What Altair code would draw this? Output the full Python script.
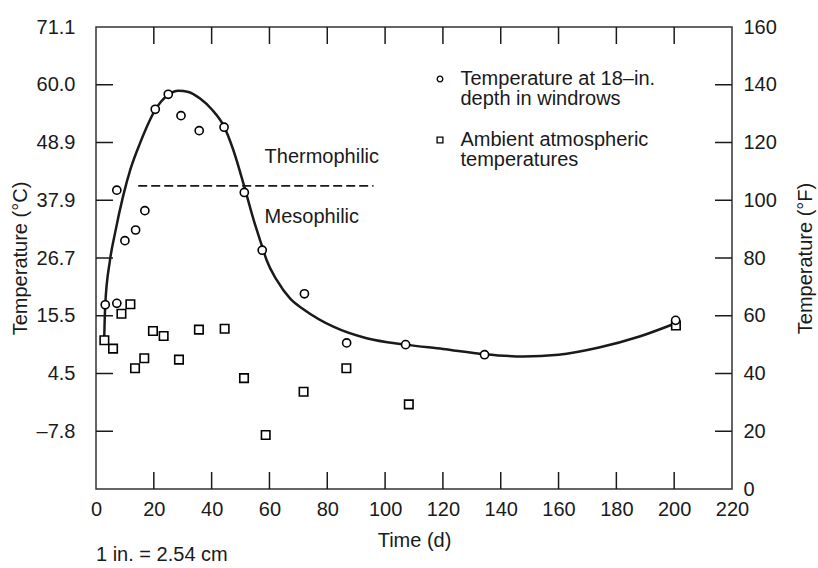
import altair as alt
import pandas as pd

FONT = "Liberation Sans"
FS = 20
INK = "#1a1a1a"

# Temperature at 18-in. depth in windrows (time in days, temperature in °F)
windrow_day = [3.2, 7.2, 7.2, 10.0, 13.7, 16.9, 20.5, 25.0, 29.4, 35.7, 44.3,
               51.3, 57.5, 72.1, 86.7, 107.1, 134.4, 200.5]
windrow_f = [63.8, 64.3, 103.5, 86.0, 89.7, 96.4, 131.5, 136.7, 129.3, 124.1,
             125.3, 102.7, 82.7, 67.6, 50.6, 50.0, 46.5, 58.4]

# Ambient atmospheric temperatures
ambient_day = [2.9, 5.9, 8.8, 11.9, 13.5, 16.7, 19.7, 23.4, 28.7, 35.6, 44.5,
               51.2, 58.7, 71.8, 86.6, 108.2, 200.6]
ambient_f = [51.5, 48.6, 60.7, 64.0, 41.8, 45.3, 54.7, 53.0, 44.8, 55.2, 55.5,
             38.4, 18.7, 33.7, 41.8, 29.3, 56.6]

# Fitted windrow temperature curve
curve_day = [2.8, 3.2, 4.8, 6.6, 9.4, 12.0, 15.2, 20.5, 25.0, 28.5, 32.0, 36.0,
             40.0, 44.3, 47.5, 51.3, 54.5, 57.5, 59.0, 62.5, 67.1, 72.1, 82.1,
             93.6, 107.1, 120.0, 134.4, 147.8, 160.0, 174.0, 188.0, 200.5]
curve_f = [50.5, 63.8, 79.0, 88.7, 101.5, 111.0, 119.7, 131.3, 136.5, 137.9,
           137.5, 135.2, 131.5, 125.5, 117.4, 104.7, 93.3, 83.9, 79.3, 72.4,
           66.0, 62.0, 56.2, 52.2, 50.0, 48.5, 46.7, 45.9, 46.5, 49.0, 52.8, 57.4]

# Boundary between mesophilic and thermophilic ranges
boundary_day = [14.6, 96.0]
boundary_f = 105.0

# Axis ticks and labels
day_ticks = [0, 20, 40, 60, 80, 100, 120, 140, 160, 180, 200, 220]
inner_day_ticks = [20, 40, 60, 80, 100, 120, 140, 160, 180, 200]
f_ticks = [0, 20, 40, 60, 80, 100, 120, 140, 160]
inner_f_ticks = [20, 40, 60, 80, 100, 120, 140]
c_labels = ["", "\u20137.8", "4.5", "15.5", "26.7", "37.9", "48.9", "60.0", "71.1"]

legend_lines = [["Temperature at 18\u2013in.", "depth in windrows"],
                ["Ambient atmospheric", "temperatures"]]

W, H = 636, 462
TICK = 17

xs = alt.Scale(domain=[0, 220], nice=False, zero=False)
ys = alt.Scale(domain=[0, 160], nice=False, zero=False)

windrow = pd.DataFrame({"day": windrow_day, "f": windrow_f})
ambient = pd.DataFrame({"day": ambient_day, "f": ambient_f})
curve = pd.DataFrame({"day": curve_day, "f": curve_f})
boundary = pd.DataFrame({"d0": [boundary_day[0]], "d1": [boundary_day[1]], "f": [boundary_f]})

label_expr = "[" + ",".join("'" + s + "'" for s in c_labels) + "][round(datum.value / 20)]"

common_axis = dict(grid=False, domain=False, ticks=False, tickSize=0,
                   labelFont=FONT, labelFontSize=FS, labelColor=INK,
                   titleFont=FONT, titleFontSize=FS, titleColor=INK,
                   titleFontWeight="normal")

x_axis = alt.Axis(values=day_ticks, title="Time (d)", labelPadding=10,
                  labelFlush=False, labelOverlap=False,
                  titleX=W / 2, titleY=51, titleBaseline="middle", **common_axis)
y_left_axis = alt.Axis(values=f_ticks, labelExpr=label_expr, title="Temperature (\u00b0C)",
                       labelPadding=21, labelFlush=False, labelOverlap=False,
                       labelBaseline="middle",
                       titleX=-76, titleY=H / 2, titleAngle=-90, titleAlign="center",
                       titleBaseline="middle", **common_axis)
y_right_axis = alt.Axis(values=f_ticks, orient="right", title="Temperature (\u00b0F)",
                        labelPadding=11, labelFlush=False, labelOverlap=False,
                        labelBaseline="middle",
                        titleX=73, titleY=H / 2, titleAngle=-90, titleAlign="center",
                        titleBaseline="middle", **common_axis)


def X(field):
    return alt.X(field, scale=xs, axis=x_axis)


def Y(field, axis=None):
    return alt.Y(field, scale=ys, axis=axis)


# Fitted curve carries the left axis
curve_layer = alt.Chart(curve).mark_line(
    color=INK, strokeWidth=2.5, interpolate="monotone", clip=True
).encode(x=X("day:Q"), y=Y("f:Q", y_left_axis), order="day:Q")

# Right-hand °F axis
right_axis_layer = alt.Chart(pd.DataFrame({"f": f_ticks})).mark_point(opacity=0).encode(
    y=Y("f:Q", y_right_axis),
)

ambient_layer = alt.Chart(ambient).mark_square(
    size=72, filled=True, fill="white", stroke="#000", strokeWidth=1.6, opacity=1
).encode(x=X("day:Q"), y=Y("f:Q"))

windrow_layer = alt.Chart(windrow).mark_circle(
    size=66, fill="white", stroke="#000", strokeWidth=1.6, opacity=1
).encode(x=X("day:Q"), y=Y("f:Q"))

boundary_layer = alt.Chart(boundary).mark_rule(
    color=INK, strokeWidth=1.7, strokeDash=[9, 4]
).encode(x=X("d0:Q"), x2="d1:Q", y=Y("f:Q"))

zones = pd.DataFrame({"day": [58.3, 58.3], "f": [115.0, 94.2],
                      "label": ["Thermophilic", "Mesophilic"]})
zone_layer = alt.Chart(zones).mark_text(
    font=FONT, fontSize=FS, color=INK, align="left", baseline="middle"
).encode(x=X("day:Q"), y=Y("f:Q"), text="label:N")

# Inward-pointing ticks on all four sides of the frame
left_ticks = alt.Chart(pd.DataFrame({"f": inner_f_ticks})).mark_rule(
    color=INK, strokeWidth=1.5).encode(
    y=Y("f:Q"), x=alt.value(0), x2=alt.value(TICK))
right_ticks = alt.Chart(pd.DataFrame({"f": inner_f_ticks})).mark_rule(
    color=INK, strokeWidth=1.5).encode(
    y=Y("f:Q"), x=alt.value(W - TICK), x2=alt.value(W))
top_ticks = alt.Chart(pd.DataFrame({"day": inner_day_ticks})).mark_rule(
    color=INK, strokeWidth=1.5).encode(
    x=X("day:Q"), y=alt.value(0), y2=alt.value(TICK))
bottom_ticks = alt.Chart(pd.DataFrame({"day": inner_day_ticks})).mark_rule(
    color=INK, strokeWidth=1.5).encode(
    x=X("day:Q"), y=alt.value(H - TICK), y2=alt.value(H))

# Legend in the upper right of the plot
LEG_X, LEG_TEXT_X = 344, 364.5
LINE_GAP = 20
leg_circle = alt.Chart(pd.DataFrame({"k": [0]})).mark_circle(
    size=32, fill="white", stroke="#000", strokeWidth=1.3, opacity=1
).encode(x=alt.value(LEG_X), y=alt.value(52))
leg_square = alt.Chart(pd.DataFrame({"k": [0]})).mark_square(
    size=34, filled=True, fill="white", stroke="#000", strokeWidth=1.3, opacity=1
).encode(x=alt.value(LEG_X), y=alt.value(113))

legend_text_layers = []
for lines, y0 in zip(legend_lines, [52, 113]):
    for i, line in enumerate(lines):
        legend_text_layers.append(
            alt.Chart(pd.DataFrame({"t": [line]})).mark_text(
                font=FONT, fontSize=FS, color=INK, align="left", baseline="middle"
            ).encode(x=alt.value(LEG_TEXT_X), y=alt.value(y0 + LINE_GAP * i), text="t:N")
        )

scale_note = alt.Chart(pd.DataFrame({"t": ["1 in. = 2.54 cm"]})).mark_text(
    font=FONT, fontSize=FS, color=INK, align="left", baseline="middle"
).encode(x=alt.value(0), y=alt.value(528), text="t:N")

chart = alt.layer(
    curve_layer, right_axis_layer, boundary_layer, ambient_layer, windrow_layer,
    zone_layer, left_ticks, right_ticks, top_ticks, bottom_ticks,
    leg_circle, leg_square, *legend_text_layers, scale_note,
).resolve_axis(
    y="independent"
).properties(
    width=W, height=H,
    padding={"left": 96, "top": 27, "right": 86, "bottom": 79},
    autosize=alt.AutoSizeParams(type="none"),
    background="white",
).configure_view(
    stroke="#333", strokeWidth=1.5
)

chart.save("out.html", embed_options={"renderer": "svg", "actions": False})
